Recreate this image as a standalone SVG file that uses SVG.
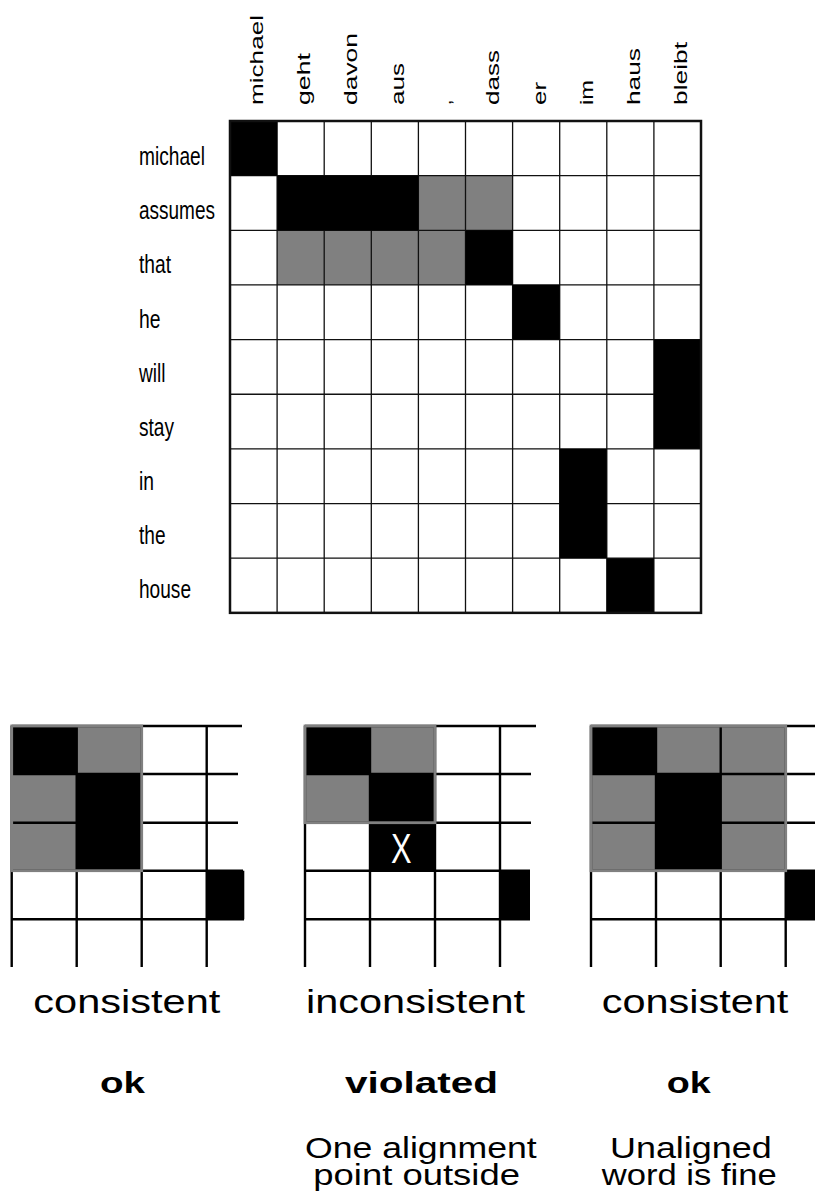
<svg xmlns="http://www.w3.org/2000/svg" width="815" height="1191" viewBox="0 0 815 1191">
<style>
text{font-family:"Liberation Sans",Arial,sans-serif;fill:#000}
.row{font-size:25px}
.col{font-size:19px}
.cap{font-size:34px}
.bold{font-size:29px;font-weight:bold}
.note{font-size:30px}
.blk{fill:#000}
.gry{fill:#808080}
.ln{stroke:#111;stroke-width:1.3;fill:none}
.bd{stroke:#111;stroke-width:2.5;fill:none}
.sl{stroke:#000;stroke-width:2.4;fill:none}
.gb{fill:none;stroke:#808080;stroke-width:2.8}
</style>
<rect width="815" height="1191" fill="#fff"/>

<g id="column-labels">
<text class="col" transform="translate(263.3,105) rotate(-90)" textLength="90" lengthAdjust="spacingAndGlyphs">michael</text>
<text class="col" transform="translate(310.4,105) rotate(-90)" textLength="52" lengthAdjust="spacingAndGlyphs">geht</text>
<text class="col" transform="translate(357.2,105) rotate(-90)" textLength="72" lengthAdjust="spacingAndGlyphs">davon</text>
<text class="col" transform="translate(404.3,105) rotate(-90)" textLength="42" lengthAdjust="spacingAndGlyphs">aus</text>
<text class="col" transform="translate(451.4,105) rotate(-90)">,</text>
<text class="col" transform="translate(498.5,105) rotate(-90)" textLength="55" lengthAdjust="spacingAndGlyphs">dass</text>
<text class="col" transform="translate(545.6,105) rotate(-90)" textLength="23" lengthAdjust="spacingAndGlyphs">er</text>
<text class="col" transform="translate(592.7,105) rotate(-90)" textLength="25" lengthAdjust="spacingAndGlyphs">im</text>
<text class="col" transform="translate(639.8,105) rotate(-90)" textLength="57" lengthAdjust="spacingAndGlyphs">haus</text>
<text class="col" transform="translate(686.9,105) rotate(-90)" textLength="63" lengthAdjust="spacingAndGlyphs">bleibt</text>
</g>

<g id="row-labels">
<text class="row" x="139" y="165" textLength="66" lengthAdjust="spacingAndGlyphs">michael</text>
<text class="row" x="139" y="219.2" textLength="76" lengthAdjust="spacingAndGlyphs">assumes</text>
<text class="row" x="139" y="273.3" textLength="32" lengthAdjust="spacingAndGlyphs">that</text>
<text class="row" x="139" y="327.5" textLength="21.5" lengthAdjust="spacingAndGlyphs">he</text>
<text class="row" x="139" y="381.6" textLength="26.5" lengthAdjust="spacingAndGlyphs">will</text>
<text class="row" x="139" y="435.8" textLength="35" lengthAdjust="spacingAndGlyphs">stay</text>
<text class="row" x="139" y="489.9" textLength="15" lengthAdjust="spacingAndGlyphs">in</text>
<text class="row" x="139" y="544.1" textLength="26.5" lengthAdjust="spacingAndGlyphs">the</text>
<text class="row" x="139" y="598.2" textLength="52" lengthAdjust="spacingAndGlyphs">house</text>
</g>

<g id="alignment-matrix">
<rect class="gry" x="418.4" y="175.65" width="94.2" height="54.65"/>
<rect class="gry" x="277.1" y="230.3" width="188.4" height="54.65"/>
<path class="ln" d="M277.1 121V612.85M324.2 121V612.85M371.3 121V612.85M418.4 121V612.85M465.5 121V612.85M512.6 121V612.85M559.7 121V612.85M606.8 121V612.85M653.9 121V612.85M230 175.65H701M230 230.3H701M230 284.95H701M230 339.6H701M230 394.25H701M230 448.9H701M230 503.55H701M230 558.2H701"/>
<rect class="blk" x="230" y="121" width="47.1" height="54.65"/>
<rect class="blk" x="277.1" y="175.65" width="141.3" height="54.65"/>
<rect class="blk" x="465.5" y="230.3" width="47.1" height="54.65"/>
<rect class="blk" x="512.6" y="284.95" width="47.1" height="54.65"/>
<rect class="blk" x="653.9" y="339.6" width="47.1" height="109.3"/>
<rect class="blk" x="559.7" y="448.9" width="47.1" height="109.3"/>
<rect class="blk" x="606.8" y="558.2" width="47.1" height="54.65"/>
<rect class="bd" x="230" y="121" width="471" height="491.85"/>
</g>

<g id="example-consistent-1">
<rect class="gry" x="11.7" y="726" width="130" height="144.7"/>
<path class="sl" d="M11.7 726V967M76.7 726V967M141.7 726V967M206.7 726V967M11.7 726H242M11.7 774H238M11.7 822.7H238M11.7 870.7H243M11.7 919.3H244"/>
<rect class="blk" x="11.7" y="726" width="65" height="48"/>
<rect class="blk" x="76.7" y="774" width="65" height="96.7"/>
<rect class="blk" x="206.7" y="870.7" width="37.6" height="48.6"/>
<rect class="gb" x="11.7" y="726" width="130" height="144.7"/>
<text class="cap" x="33.3" y="1012.7" textLength="187" lengthAdjust="spacingAndGlyphs">consistent</text>
<text class="bold" x="100" y="1093.3" textLength="45" lengthAdjust="spacingAndGlyphs">ok</text>
</g>

<g id="example-inconsistent">
<rect class="gry" x="305" y="726" width="130" height="96.7"/>
<path class="sl" d="M305 726V967M370 726V967M435 726V967M500 726V967M305 726H536M305 774H531M305 822.7H531M305 870.7H530M305 919.3H530"/>
<rect class="blk" x="305" y="726" width="65" height="48"/>
<rect class="blk" x="370" y="774" width="65" height="48.7"/>
<rect class="blk" x="370" y="822.7" width="65" height="48"/>
<rect class="blk" x="500" y="870.7" width="30" height="48.6"/>
<rect class="gb" x="305" y="726" width="130" height="96.7"/>
<text x="391" y="863" style="font-size:43px;fill:#fff" textLength="20.5" lengthAdjust="spacingAndGlyphs">X</text>
<text class="cap" x="306" y="1012.7" textLength="219" lengthAdjust="spacingAndGlyphs">inconsistent</text>
<text class="bold" x="345" y="1093.3" textLength="153" lengthAdjust="spacingAndGlyphs">violated</text>
<text class="note" x="305" y="1158" textLength="231.7" lengthAdjust="spacingAndGlyphs">One alignment</text>
<text class="note" x="313.3" y="1185" textLength="206.7" lengthAdjust="spacingAndGlyphs">point outside</text>
</g>

<g id="example-consistent-2">
<rect class="gry" x="591" y="726" width="194.7" height="144.7"/>
<path class="sl" d="M591 726V967M656 726V967M720.7 726V967M785.7 726V967M591 726H815M591 774H815M591 822.7H815M591 870.7H815M591 919.3H815"/>
<rect class="blk" x="591" y="726" width="65" height="48"/>
<rect class="blk" x="656" y="774" width="64.7" height="96.7"/>
<rect class="blk" x="785.7" y="870.7" width="29.3" height="48.6"/>
<rect class="gb" x="591" y="726" width="194.7" height="144.7"/>
<text class="cap" x="601.7" y="1012.7" textLength="186.7" lengthAdjust="spacingAndGlyphs">consistent</text>
<text class="bold" x="666.7" y="1093.3" textLength="44" lengthAdjust="spacingAndGlyphs">ok</text>
<text class="note" x="610" y="1158" textLength="161.7" lengthAdjust="spacingAndGlyphs">Unaligned</text>
<text class="note" x="601.7" y="1185" textLength="175" lengthAdjust="spacingAndGlyphs">word is fine</text>
</g>
</svg>
